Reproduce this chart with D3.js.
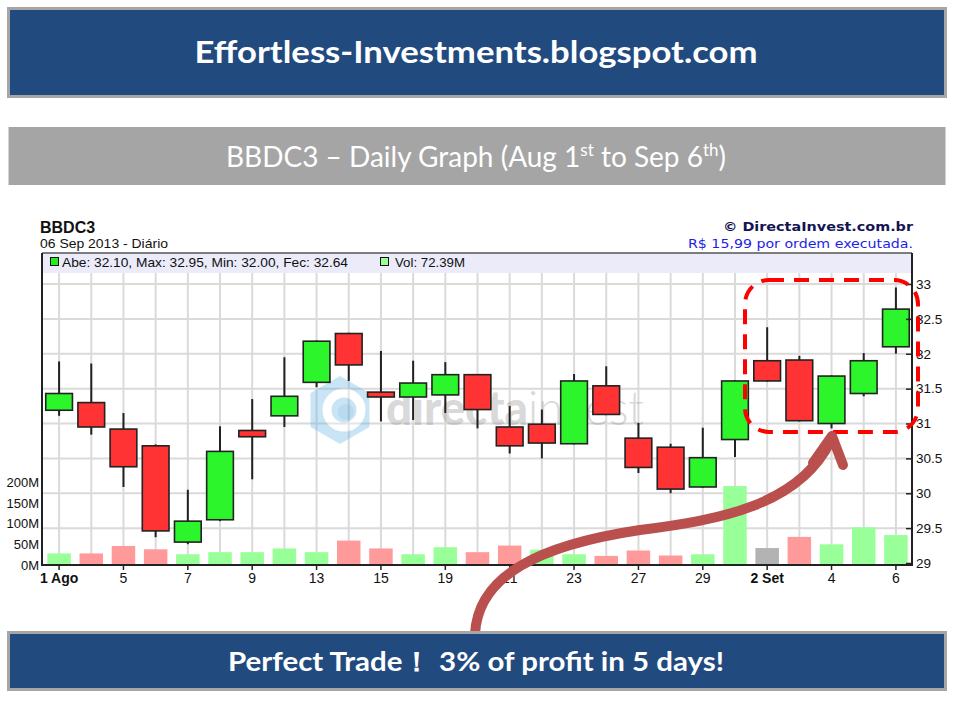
<!DOCTYPE html>
<html><head><meta charset="utf-8">
<script src="https://cdn.jsdelivr.net/npm/d3@7"></script>
<style>
html,body{margin:0;padding:0;background:#fff;}
svg{display:block;}
</style></head>
<body>
<svg id="c" width="960" height="720"></svg>
<script>
// ---------- DATA ----------
const days = ["1 Ago","2","5","6","7","8","9","12","13","14","15","16","19","20","21","22","23","26","27","28","29","30","2 Set","3","4","5","6"];
const openP  = [31.19,31.30,30.92,30.68,29.30,29.62,30.90,31.11,31.59,32.29,31.45,31.38,31.41,31.70,30.95,30.99,30.71,31.54,30.79,30.66,30.09,30.77,31.90,31.91,31.00,31.43,32.10];
const highP  = [31.89,31.86,31.15,30.70,30.05,30.96,31.35,31.95,32.19,32.30,32.04,31.90,31.88,31.71,31.25,31.20,31.71,31.82,31.01,30.71,30.94,31.62,32.38,31.97,31.69,32.01,32.95];
const lowP   = [31.11,30.84,30.09,29.37,29.27,29.60,30.20,30.95,31.52,31.61,31.03,31.05,31.15,30.93,30.57,30.50,30.70,31.12,30.29,30.00,30.08,30.52,31.60,31.03,30.93,31.39,32.00];
const closeP = [31.43,30.95,30.38,29.46,29.60,30.60,30.81,31.39,32.18,31.84,31.38,31.58,31.70,31.20,30.68,30.72,31.61,31.13,30.37,30.06,30.51,31.61,31.61,31.04,31.68,31.90,32.64];
const volumeM = [28,28,46,38,26,31,31,40,31,59,40,26,43,31,47,37,26,22,35,23,26,191,41,68,50,91,72.39];
const priceTicks = [29,29.5,30,30.5,31,31.5,32,32.5,33];
const volTicks = [0,50,100,150,200];
const headerTitle = "Effortless-Investments.blogspot.com";
const footerTitle = "Perfect Trade\uFF01 3% of profit in 5 days!";

const svg = d3.select("#c");
const BLUE = "#214a7f", BORDER = "#a6a6a6";
const SANS = "'Liberation Sans', Arial, sans-serif";
const VERD = "'DejaVu Sans', Verdana, sans-serif";

// ---------- BANNERS ----------
function banner(y, h, fill, border){
  svg.append("rect").attr("x",8.5).attr("y",y).attr("width",937).attr("height",h)
    .attr("fill",fill).attr("stroke",border).attr("stroke-width",border?3:0);
}
banner(8.5, 88, BLUE, BORDER);
svg.append("text").attr("x",476).attr("y",63).attr("text-anchor","middle")
  .attr("font-family","Lato, 'Open Sans', sans-serif").attr("font-weight","bold")
  .attr("font-size",31).attr("fill","#fff")
  .attr("textLength",563).attr("lengthAdjust","spacingAndGlyphs").text(headerTitle);

banner(127, 58, "#a5a5a5", null);
const t2 = svg.append("text").attr("x",476).attr("y",167).attr("text-anchor","middle")
  .attr("font-family","Lato, 'Open Sans', sans-serif").attr("font-size",28).attr("fill","#fff");
t2.append("tspan").text("BBDC3 \u2013 Daily Graph (Aug 1");
t2.append("tspan").attr("font-size",17).attr("dy",-11).text("st");
t2.append("tspan").attr("dy",11).text(" to Sep 6");
t2.append("tspan").attr("font-size",17).attr("dy",-11).text("th");
t2.append("tspan").attr("dy",11).text(")");

// ---------- CHART GEOMETRY ----------
const L = 42, R = 912, TOP = 253, LEG = 273, BOT = 565;
const idx = d3.range(days.length);
const x = d3.scaleBand().domain(idx).range([L+1, R]).padding(0);
const cx = i => x(i) + x.bandwidth()/2;
const y = d3.scaleLinear().domain([29,33]).range([563,284]);
const yv = d3.scaleLinear().domain([0,200]).range([BOT,482.3]);

const data = idx.map(i=>({i, o:openP[i], h:highP[i], l:lowP[i], c:closeP[i], v:volumeM[i],
  prev: i>0 ? closeP[i-1] : null}));

// header texts
svg.append("text").attr("x",40).attr("y",233).attr("font-family",SANS)
  .attr("font-weight","bold").attr("font-size",16).attr("fill","#111").text("BBDC3");
svg.append("text").attr("x",40).attr("y",248).attr("font-family",SANS)
  .attr("font-size",13).attr("fill","#111").attr("textLength",128).attr("lengthAdjust","spacingAndGlyphs").text("06 Sep 2013 - Diário");
svg.append("text").attr("x",913).attr("y",231).attr("text-anchor","end").attr("font-family",VERD)
  .attr("font-weight","bold").attr("font-size",13).attr("fill","#141454")
  .attr("textLength",190).attr("lengthAdjust","spacingAndGlyphs").text("\u00A9 DirectaInvest.com.br");
svg.append("text").attr("x",913).attr("y",248).attr("text-anchor","end").attr("font-family",VERD)
  .attr("font-size",13).attr("fill","#1e1ee6")
  .attr("textLength",225).attr("lengthAdjust","spacingAndGlyphs").text("R$ 15,99 por ordem executada.");

// legend row
svg.append("rect").attr("x",L).attr("y",TOP).attr("width",R-L).attr("height",LEG-TOP).attr("fill","#ebebf9");
const last = data[data.length-1];
svg.append("rect").attr("x",50.5).attr("y",257.5).attr("width",8).attr("height",8).attr("fill","#22ee22").attr("stroke","#111");
svg.append("text").attr("x",62).attr("y",267).attr("font-family",SANS).attr("font-size",13.5).attr("fill","#111")
  .attr("textLength",286).attr("lengthAdjust","spacingAndGlyphs")
  .text(`Abe: ${last.o.toFixed(2)}, Max: ${last.h.toFixed(2)}, Min: ${last.l.toFixed(2)}, Fec: ${last.c.toFixed(2)}`);
svg.append("rect").attr("x",380.5).attr("y",257.5).attr("width",8).attr("height",8).attr("fill","#99ff99").attr("stroke","#111");
svg.append("text").attr("x",395).attr("y",267).attr("font-family",SANS).attr("font-size",13.5).attr("fill","#111")
  .attr("textLength",70).attr("lengthAdjust","spacingAndGlyphs")
  .text(`Vol: ${last.v.toFixed(2)}M`);

// grid
const grid = svg.append("g").attr("stroke","#dadada").attr("stroke-width",2);
grid.selectAll("line.v").data(idx).join("line").attr("class","v")
  .attr("x1",cx).attr("x2",cx).attr("y1",LEG).attr("y2",BOT);
grid.selectAll("line.h").data(priceTicks.filter(t=>t>29)).join("line").attr("class","h")
  .attr("x1",L).attr("x2",R).attr("y1",d=>y(d)).attr("y2",d=>y(d));

// watermark
const wm = svg.append("g").attr("opacity",0.32);
const hx = 340, hy = 410, hr = 34;
wm.append("polygon").attr("points", d3.range(6).map(k=>{const a=Math.PI/3*k+Math.PI/6;return [hx+hr*Math.cos(a),hy+hr*Math.sin(a)].join(",");}).join(" "))
  .attr("fill","#5aaee0");
wm.append("circle").attr("cx",hx+4).attr("cy",hy).attr("r",17).attr("fill","none").attr("stroke","#fff").attr("stroke-width",9);
wm.append("circle").attr("cx",hx+6).attr("cy",hy+2).attr("r",8).attr("fill","#2a8fd0");
const wt = wm.append("text").attr("x",386).attr("y",425).attr("font-family","Lato, 'Open Sans', sans-serif")
  .attr("font-size",48).attr("fill","#8a8a8a").attr("textLength",258).attr("lengthAdjust","spacingAndGlyphs");
wt.append("tspan").attr("font-weight","900").text("directa");
wt.append("tspan").attr("font-weight","300").text("invest");

// volume bars
const vw = x.bandwidth()*0.73;
svg.append("g").selectAll("rect").data(data).join("rect")
  .attr("x",d=>cx(d.i)-vw/2).attr("width",vw)
  .attr("y",d=>yv(d.v)).attr("height",d=>BOT-yv(d.v))
  .attr("fill",d=> d.prev===null || d.c>d.prev ? "#99ff99" : (d.c<d.prev ? "#ff9a9a" : "#b3b3b3"));

// candles
const bw = x.bandwidth()*0.83;
const cg = svg.append("g");
cg.selectAll("line").data(data).join("line")
  .attr("x1",d=>cx(d.i)).attr("x2",d=>cx(d.i)).attr("y1",d=>y(d.h)).attr("y2",d=>y(d.l))
  .attr("stroke","#222").attr("stroke-width",2);
cg.selectAll("rect").data(data).join("rect")
  .attr("x",d=>cx(d.i)-bw/2).attr("width",bw)
  .attr("y",d=>y(Math.max(d.o,d.c))).attr("height",d=>Math.max(2,Math.abs(y(d.o)-y(d.c))))
  .attr("fill",d=>d.c>=d.o ? "#2cf52c" : "#ff3333").attr("stroke","#222").attr("stroke-width",1.6);

// frame
const fr = svg.append("g").attr("stroke","#222").attr("fill","none");
fr.append("line").attr("x1",L).attr("x2",R).attr("y1",TOP).attr("y2",TOP).attr("stroke","#555").attr("stroke-width",1.5);
fr.append("line").attr("x1",L).attr("x2",L).attr("y1",TOP).attr("y2",BOT+1).attr("stroke-width",2);
fr.append("line").attr("x1",R).attr("x2",R).attr("y1",TOP).attr("y2",BOT+1).attr("stroke-width",2);
fr.append("line").attr("x1",L).attr("x2",R+1).attr("y1",BOT).attr("y2",BOT).attr("stroke-width",2);

// axes
const axR = svg.append("g").attr("transform",`translate(${R},0)`)
  .call(d3.axisRight(y).tickValues(priceTicks).tickSize(-6).tickPadding(4).tickFormat(d=>String(d)));
axR.select(".domain").remove();
axR.selectAll(".tick line").attr("stroke","#222").attr("stroke-width",1.5);
axR.selectAll("text").attr("font-family",SANS).attr("font-size",13.5).attr("fill","#111");

const axL = svg.append("g").attr("transform",`translate(${L},0)`)
  .call(d3.axisLeft(yv).tickValues(volTicks).tickSize(0).tickPadding(3).tickFormat(d=>d+"M"));
axL.select(".domain").remove();
axL.selectAll("text").attr("font-family",SANS).attr("font-size",13).attr("fill","#111");

const axB = svg.append("g").attr("transform",`translate(0,${BOT})`)
  .call(d3.axisBottom(x).tickValues(idx.filter(i=>i%2===0)).tickSize(5).tickPadding(3).tickFormat(i=>days[i]));
axB.select(".domain").remove();
axB.selectAll(".tick line").attr("stroke","#222").attr("stroke-width",1.5);
axB.selectAll("text").attr("font-family",SANS).attr("font-size",14).attr("fill","#111")
  .attr("font-weight",i=>days[i].includes(" ")?"bold":"normal");

// annotation: dashed rounded box
svg.append("rect").attr("x",745).attr("y",280).attr("width",173).attr("height",152).attr("rx",24)
  .attr("fill","none").attr("stroke","#ff0000").attr("stroke-width",4).attr("stroke-dasharray","15,10");

// curved arrow
const arrowCol = "#b9504d";
svg.append("path").attr("d","M475,634 C478,575 540,545 640,530 C720,520 800,505 831,440")
  .attr("fill","none").attr("stroke",arrowCol).attr("stroke-width",10).attr("stroke-linecap","round");
svg.append("path").attr("d","M813,463 L832,436 L843,465")
  .attr("fill","none").attr("stroke",arrowCol).attr("stroke-width",10).attr("stroke-linecap","round").attr("stroke-linejoin","round");

// bottom banner
banner(632.5, 57, BLUE, BORDER);
svg.append("text").attr("x",476).attr("y",671).attr("text-anchor","middle")
  .attr("font-family","Lato, 'Open Sans', sans-serif").attr("font-weight","bold")
  .attr("font-size",27).attr("fill","#fff")
  .attr("textLength",496).attr("lengthAdjust","spacingAndGlyphs").text(footerTitle);
</script>
</body></html>
